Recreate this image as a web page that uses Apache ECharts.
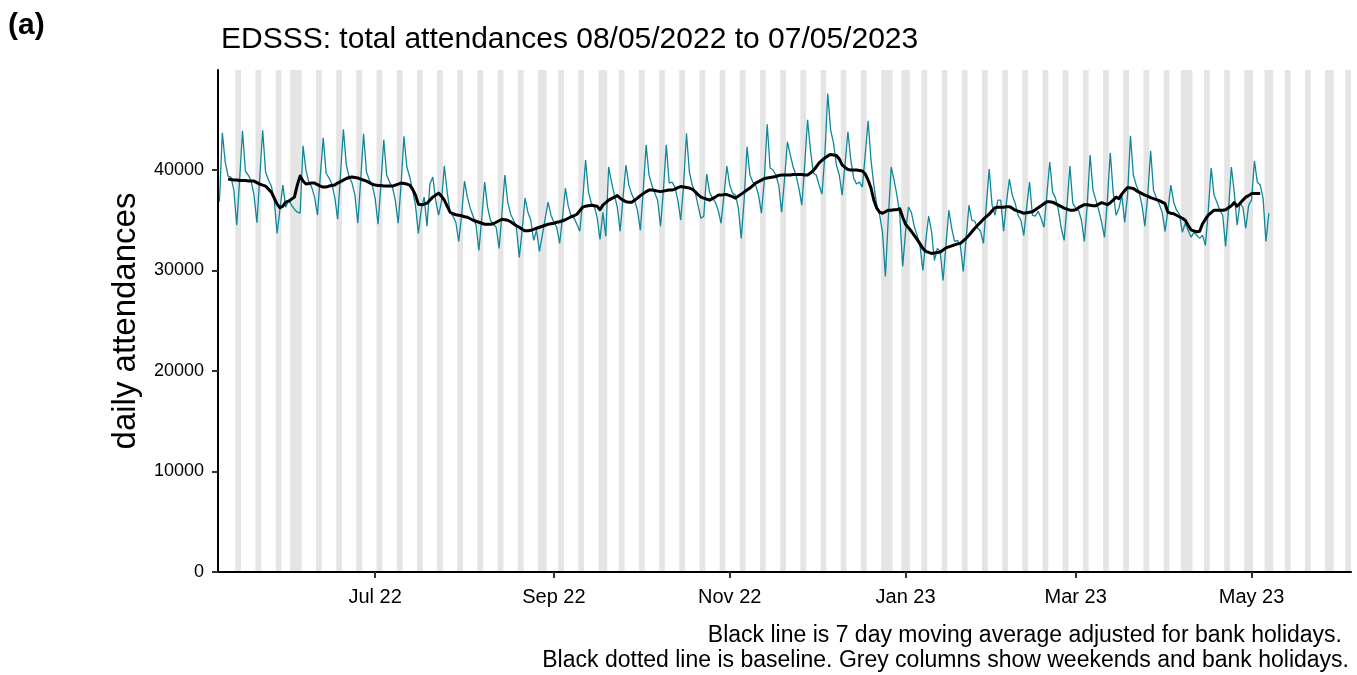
<!DOCTYPE html>
<html>
<head>
<meta charset="utf-8">
<script src="https://cdn.jsdelivr.net/npm/echarts@6/dist/echarts.min.js"></script>
<style>
html,body{margin:0;padding:0;background:#fff;}
#chart{width:1357px;height:675px;}
</style>
</head>
<body>
<div id="chart"></div>
<script>
// ---- data ----
const startDate = [2022, 4, 8];           // 08/05/2022, first day of data (UTC, month 0-based)
// daily attendances, one value per day from 08/05/2022 (Sun) to 07/05/2023 (Sun), rows = Sun..Sat
const dailyAttendances = [
  36850, 43700, 40800, 39400, 39300, 38000, 34500,
  39000, 43900, 39900, 39500, 38900, 37500, 34750,
  39300, 43950, 39800, 39000, 38400, 37000, 33700,
  36100, 38500, 36300, 37000, 36500, 36100, 35800,
  35700, 42400, 40000, 38800, 38300, 37300, 35500,
  39500, 43200, 39700, 39200, 38600, 37300, 35100,
  39600, 44050, 40500, 39300, 38700, 37500, 34700,
  39000, 43600, 39800, 39000, 38500, 37200, 34600,
  38500, 43000, 39500, 38800, 38300, 37000, 34700,
  38500, 43350, 40300, 39300, 38000, 36500, 33700,
  36000, 37300, 34400, 38600, 39300, 37000, 35500,
  36800, 40400, 37800, 35800, 35400, 34800, 32900,
  35500, 38900, 37300, 36200, 35400, 34500, 32000,
  35200, 38800, 36300, 35000, 34600, 34300, 32200,
  35700, 39500, 36800, 35600, 35000, 34300, 31300,
  34000, 37200, 35800, 35000, 33000, 34000, 31900,
  33500, 35200, 36800, 35500, 34800, 34300, 32700,
  35300, 38200, 36400, 35400, 35200, 34600, 33900,
  37000, 41000, 37800, 36700, 36400, 35300, 33100,
  35800, 33400, 40300, 38800, 37500, 36300, 33900,
  37300, 40500, 38500, 37600, 37000, 36000, 34000,
  38000, 42500, 39500, 38500, 37700, 37000, 34400,
  38000, 42500, 38700, 38800, 38300, 37000, 35000,
  38500, 43650, 39800, 38500, 37800, 36500, 35200,
  35400, 39600, 37800, 37200, 36800, 36000, 34700,
  37500, 40400, 38500, 37700, 37500, 36200, 33200,
  37000, 42300, 39500, 38800, 38500, 37500, 35700,
  39000, 44550, 40200, 40000, 39500, 38500, 35800,
  39000, 42800, 41500, 40300, 39500, 38200, 36500,
  40500, 45000, 42000, 39700, 39500, 38500, 37600,
  41500, 47600, 44000, 42700, 40500, 39500, 37500,
  40600, 43800, 41000, 39200, 38600, 38800, 38300,
  41500, 44900, 41000, 38500, 36500, 35500, 33800,
  29400, 35200, 40300, 39000, 37500, 35500, 30400,
  33900, 36300, 35800, 34400, 33500, 32500, 30000,
  33000, 35400, 33900, 31000, 32200, 31900, 29000,
  32500, 36000, 34200, 32900, 33000, 32500, 29900,
  33200, 36500, 35000, 34900, 34200, 33900, 32700,
  36500, 40100, 36500, 35500, 37000, 37000, 33900,
  36800, 39100, 37500, 36700, 35500, 35000, 33500,
  36300, 38800, 35500, 35400, 35900, 35200, 34300,
  37500, 40800, 37800, 37200, 36000, 34200, 33000,
  36500, 40400, 36700, 36200, 36000, 35000, 32900,
  36500, 41500, 38000, 37000, 36000, 34800, 33300,
  37000, 41700, 37800, 35500, 36200, 37500, 34800,
  37500, 43400, 39500, 38500, 37800, 36500, 34400,
  37500, 41900, 38000, 37200, 36600, 35800, 33900,
  36000, 38500, 36800, 36000, 35600, 33800, 34700,
  34000, 33300, 33800, 33500, 33200, 33500, 32500,
  36000, 40200, 37500, 36800, 36000, 35500, 32400,
  36000, 40300, 37800, 34500, 36700, 36300, 34200,
  36500, 37000, 40900, 38800, 38500, 37200, 32900,
  35700
];
// 7 day moving average (adjusted for bank holidays), first value is day index 3 (11/05/2022)
const movingAverageFirstDay = 3;
const movingAverage = [
  39100, 39050, 39000, 39000, 38950, 38950, 38950, 38900, 38900, 38900,
  38750, 38600, 38500, 38400, 38100, 37800, 37200, 36600, 36250, 36400,
  36800, 36900, 37100, 37300, 38500, 39400, 38900, 38600, 38650, 38700,
  38700, 38550, 38400, 38300, 38300, 38400, 38450, 38500, 38700, 38850,
  39000, 39150, 39250, 39300, 39250, 39200, 39100, 39000, 38900, 38750,
  38600, 38500, 38450, 38450, 38400, 38400, 38400, 38400, 38500, 38600,
  38700, 38650, 38600, 38500, 38100, 37500, 36600, 36550, 36600, 36700,
  37000, 37300, 37500, 37700, 37400, 37000, 36400, 35800, 35650, 35550,
  35500, 35450, 35350, 35300, 35150, 35000, 34900, 34800, 34700, 34600,
  34600, 34600, 34650, 34800, 34950, 35100, 35050, 35000, 34850, 34650,
  34450, 34300, 34100, 33950, 33950, 34000, 34100, 34200, 34300, 34400,
  34500, 34600, 34650, 34700, 34800, 34850, 34950, 35050, 35200, 35350,
  35450, 35600, 35950, 36300, 36400, 36450, 36500, 36450, 36400, 36050,
  36500, 36750, 37000, 37150, 37300, 37450, 37200, 37000, 36850, 36800,
  36800, 37000, 37200, 37450, 37650, 37850, 38000, 38000, 37950, 37900,
  37850, 37900, 37950, 38000, 38000, 38100, 38250, 38350, 38300, 38250,
  38200, 38100, 37850, 37550, 37300, 37200, 37100, 37000, 37150, 37300,
  37500, 37500, 37550, 37550, 37450, 37350, 37200, 37400, 37600, 37800,
  38000, 38200, 38450, 38700, 38850, 39000, 39150, 39200, 39250, 39300,
  39350, 39450, 39500, 39500, 39500, 39500, 39550, 39550, 39550, 39550,
  39500, 39500, 39700, 39950, 40300, 40700, 40950, 41200, 41400, 41550,
  41500, 41450, 41100, 40500, 40250, 40050, 40000, 40000, 40000, 39950,
  39900, 39600, 39000, 38200, 37000, 36200, 35800, 35700, 35850, 36000,
  36000, 36050, 36050, 36150, 35300, 34600, 34250, 33900, 33500, 33100,
  32650, 32200, 31900, 31800, 31700, 31750, 31800, 31850, 32050, 32250,
  32350, 32450, 32550, 32650, 32700, 32950, 33200, 33500, 33850, 34200,
  34500, 34800, 35100, 35350, 35600, 35950, 36250, 36300, 36300, 36300,
  36350, 36350, 36200, 36000, 35900, 35800, 35700, 35750, 35800, 35850,
  36050, 36250, 36450, 36650, 36850, 36850, 36800, 36650, 36500, 36350,
  36200, 36100, 36000, 36000, 36050, 36250, 36400, 36550, 36550, 36500,
  36450, 36450, 36600, 36750, 36650, 36550, 36750, 37000, 37300, 37150,
  37600, 37950, 38250, 38200, 38150, 37950, 37800, 37650, 37500, 37400,
  37250, 37150, 37050, 36950, 36800, 36650, 35800, 35700, 35650, 35500,
  35350, 35200, 35000, 34500, 34050, 33950, 33850, 33900, 34650, 35100,
  35500, 35750, 36000, 36000, 36000, 36000, 36050, 36250, 36450, 36750,
  36400, 36700, 37000, 37300, 37450, 37650, 37650, 37650, 37650
];
// bank holidays (England) shaded with weekends
const bankHolidays = [
  '2022-06-02', '2022-06-03', '2022-08-29', '2022-09-19', '2022-12-26', '2022-12-27',
  '2023-01-02', '2023-04-07', '2023-04-10', '2023-05-01', '2023-05-08', '2023-05-29'
];
// shaded columns run from the first day after data start to the end of the axis
const shadeFirstDay = 1, shadeLastDay = 392;
const xAxisFirstDay = -0.5, xAxisLastDay = 392.5;
const xTickDates = ['2022-07-01', '2022-09-01', '2022-11-01', '2023-01-01', '2023-03-01', '2023-05-01'];
const xTickLabels = ['Jul 22', 'Sep 22', 'Nov 22', 'Jan 23', 'Mar 23', 'May 23'];
const yTickValues = [0, 10000, 20000, 30000, 40000];
const yTickLabels = ['0', '10000', '20000', '30000', '40000'];
const yMax = 49950;

const titleText = 'EDSSS: total attendances 08/05/2022 to 07/05/2023';
const panelLabel = '(a)';
const yAxisTitle = 'daily attendances';
const captionLines = [
  'Black line is 7 day moving average adjusted for bank holidays.',
  'Black dotted line is baseline. Grey columns show weekends and bank holidays.'
];

// ---- build ----
const DAY = 86400000;
const t0 = Date.UTC(startDate[0], startDate[1], startDate[2]);
const parseDay = s => { const p = s.split('-').map(Number); return Date.UTC(p[0], p[1] - 1, p[2]); };
const dayTime = d => t0 + d * DAY;

const dailySeries = dailyAttendances.map((v, i) => [dayTime(i), v]);
const maSeries = movingAverage.map((v, i) => [dayTime(i + movingAverageFirstDay), v]);

const bhSet = new Set(bankHolidays.map(parseDay));
const shadeRuns = [];
let runStart = null;
for (let d = shadeFirstDay; d <= shadeLastDay + 1; d++) {
  const t = dayTime(d);
  const wd = new Date(t).getUTCDay();
  const off = d <= shadeLastDay && (wd === 0 || wd === 6 || bhSet.has(t));
  if (off && runStart === null) runStart = d;
  if (!off && runStart !== null) {
    shadeRuns.push([{ xAxis: dayTime(runStart - 0.5) }, { xAxis: dayTime(d - 0.5) }]);
    runStart = null;
  }
}

const tickTimes = xTickDates.map(parseDay);
const FONT = '"Liberation Sans", Arial, sans-serif';

const chart = echarts.init(document.getElementById('chart'), null, { renderer: 'canvas' });
chart.setOption({
  animation: false,
  backgroundColor: '#ffffff',
  textStyle: { fontFamily: FONT },
  title: [
    { text: panelLabel, left: 3, top: 6,
      textStyle: { fontFamily: FONT, fontSize: 30, fontWeight: 'bold', color: '#000' } },
    { text: titleText, left: 216, top: 20,
      textStyle: { fontFamily: FONT, fontSize: 30, fontWeight: 'normal', color: '#000' } }
  ],
  grid: { left: 218, right: 6, top: 70, bottom: 103, containLabel: false },
  xAxis: {
    type: 'value',
    min: dayTime(xAxisFirstDay),
    max: dayTime(xAxisLastDay),
    z: 5,
    splitLine: { show: false },
    axisLine: { show: true, onZero: false, lineStyle: { color: '#000', width: 2 } },
    axisTick: { show: true, length: 6, lineStyle: { color: '#333', width: 2 }, customValues: tickTimes },
    axisLabel: {
      customValues: tickTimes,
      margin: 15,
      fontSize: 20, color: '#000', fontFamily: FONT,
      formatter: v => { const i = tickTimes.indexOf(v); return i >= 0 ? xTickLabels[i] : ''; }
    }
  },
  yAxis: {
    type: 'value',
    min: 0, max: yMax,
    z: 5,
    name: yAxisTitle,
    nameLocation: 'middle',
    nameGap: 76,
    nameRotate: 90,
    nameTextStyle: { fontFamily: FONT, fontSize: 33, color: '#000' },
    splitLine: { show: false },
    axisLine: { show: true, lineStyle: { color: '#000', width: 2 } },
    axisTick: { show: true, length: 6, lineStyle: { color: '#333', width: 2 }, customValues: yTickValues },
    axisLabel: {
      customValues: yTickValues, margin: 14, fontSize: 18, color: '#000', fontFamily: FONT,
      formatter: v => { const i = yTickValues.indexOf(v); return i >= 0 ? yTickLabels[i] : ''; }
    }
  },
  series: [
    {
      name: 'columns', type: 'line', data: [], silent: true, z: 1,
      markArea: { silent: true, itemStyle: { color: '#e5e5e5', borderWidth: 0 }, data: shadeRuns }
    },
    {
      name: 'daily', type: 'line', data: dailySeries, showSymbol: false, silent: true, z: 2,
      lineStyle: { color: '#0f8799', width: 1.3 }
    },
    {
      name: 'moving average', type: 'line', data: maSeries, showSymbol: false, silent: true, z: 3,
      lineStyle: { color: '#000', width: 3, join: 'round' }
    }
  ],
  graphic: [
    { type: 'text', right: 15, top: 624,
      style: { text: captionLines[0], font: '23px ' + FONT, fill: '#000', textAlign: 'right' } },
    { type: 'text', right: 8, top: 649,
      style: { text: captionLines[1], font: '23px ' + FONT, fill: '#000', textAlign: 'right' } }
  ]
});
</script>
</body>
</html>
